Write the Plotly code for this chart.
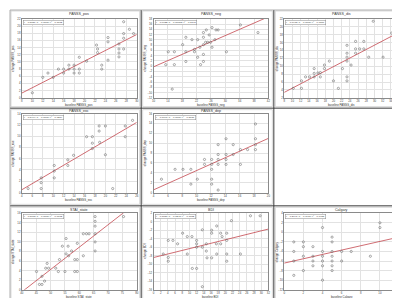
import numpy as np
import plotly.graph_objects as go

W, H = 400, 298

titles = ["PANSS_pos", "PANSS_neg", "PANSS_dis", "PANSS_exc", "PANSS_dep",
          "STAI_state", "BDI", "Calgary"]
xtitles = ["baseline PANSS_pos", "baseline PANSS_neg", "baseline PANSS_dis",
           "baseline PANSS_exc", "baseline PANSS_dep", "baseline STAI_state",
           "baseline BDI", "baseline Calgary"]
ytitles = ["change PANSS_pos", "change PANSS_neg", "change PANSS_dis",
           "change PANSS_exc", "change PANSS_dep", "change STAI_state",
           "change BDI", "change Calgary"]
stats = ["r = 0.8759, p = 0.0000; r² = 0.7672",
         "r = 0.6122, p = 0.00005; r² = 0.3748",
         "r = 0.7975, p = 0.0000; r² = 0.6360",
         "r = 0.8494, p = 0.0000; r² = 0.7214",
         "r = 0.7097, p = 0.0000; r² = 0.5037",
         "r = 0.8168, p = 0.0000; r² = 0.6672",
         "r = 0.3650, p = 0.0243; r² = 0.1332",
         "r = 0.2141, p = 0.1977; r² = 0.0458"]

# ---- data ----
pos_x = [10, 12, 13, 14, 15, 16, 16, 17, 17, 18, 18, 18, 19, 19, 19, 20.4, 22.5, 22.5, 22.3,
         23.3, 23.3, 24.5, 24.5, 24.5, 26.6, 26.6, 26.6, 26.6, 27.5, 27.5, 27.5, 27.5, 28.6, 29.4]
pos_y = [1.4, 5.7, 6.9, 5.7, 8, 8, 6.9, 9.1, 8, 6.9, 9.1, 8, 11.3, 6.9, 8, 10.2, 13.6, 12.6, 14.7,
         9.1, 8, 16.8, 15.6, 10.5, 13.6, 12.5, 11.4, 15, 17.9, 16.6, 13.6, 21.2, 19.1, 17.9]

neg_x = [13.4, 14.1, 15.8, 15.8, 15.2, 18.1, 19.0, 19.0, 19.0, 20.7, 21.4, 21.4, 22.3, 22.3, 22.9,
         23.1, 23.9, 23.9, 23.9, 23.9, 23.9, 24.5, 24.7, 25.1, 25.5, 25.9, 26.3, 26.3, 27.1, 27.4,
         28.0, 30.3, 34.2, 39.1]
neg_y = [0.6, 5.5, 5.5, 0.6, -8.7, 8.2, 11, 5.5, 1.8, 10.1, 6.4, 5.5, 10.1, 3.4, 7.2,
         0.6, 11, 12.8, 8.2, 1.8, 4.5, 9.1, 13.8, 9.1, 11.9, 9.1, 14.7, 7.2, 10.1, 13.8,
         13.8, 5.5, 15.7, 12.8]

dis_x = [10.2, 12.2, 12.2, 13.2, 14.2, 15.3, 15.3, 15.3, 16.2, 16.8, 16.8, 17.8, 17.8, 19.0, 20.0,
         21.2, 22.2, 23.3, 23.3, 23.3, 23.3, 23.3, 23.3, 24.3, 25.4, 25.4, 25.4, 26.4, 27.4, 27.4,
         28.6, 29.7, 32.1, 34.2]
dis_y = [4.4, 6.3, 4.4, 7.3, 7.3, 9.4, 8.2, 7.3, 8.3, 7.3, 8.4, 10.3, 9.4, 11.3, 6.3,
         4.4, 9.4, 15.3, 13.3, 12.3, 11.3, 7.3, 6.3, 10.3, 16.3, 14.4, 13.3, 14.4, 16.3, 14.4,
         12.3, 21.4, 12.3, 18.4]

exc_x = [5.2, 7.7, 7.7, 7.7, 10.2, 10.2, 10.2, 12.8, 12.8, 13.9, 16.4, 17.5, 17.5, 17.5, 18.8,
         18.8, 18.9, 20.0, 20.0, 21.4, 23.8, 23.8, 25.2]
exc_y = [0.7, 0.7, 1.75, 2.6, 2.6, 3.8, 4.8, 4.8, 5.8, 6.6, 9.9, 9.9, 8.75, 7.8, 10.9,
         11.8, 8.9, 11.8, 6.7, 0.7, 11.8, 9.9, 12.8]

dep_x = [5.1, 7.0, 8.1, 9.2, 9.2, 10.1, 11.1, 11.1, 12.1, 12.1, 12.1, 12.1, 12.1, 13.0, 13.0,
         13.0, 13.0, 13.0, 14.1, 14.1, 14.1, 14.1, 15.1, 15.1, 16.1, 16.1, 17.1, 18.2, 18.2, 18.2,
         18.2]
dep_y = [2.7, 4.7, 4.7, 4.7, 1.7, 2.7, 5.7, 6.7, 6.7, 5.7, 4.7, 2.7, 1.7, 9.7, 7.7,
         6.7, 5.7, 0.5, 10.9, 7.7, 6.7, 5.7, 9.7, 7.7, 8.7, 5.7, 8.7, 13.9, 10.9, 9.7,
         8.7]

stai_x = [45.1, 46.1, 47.0, 47.0, 47.9, 48.3, 48.8, 49.3, 51.8, 52.7, 53.1, 54.1, 55.0, 55.4, 55.4,
          56.1, 56.3, 57.3, 58.4, 58.4, 59.3, 59.3, 59.3, 61.4, 61.4, 62.5, 63.4, 65.5, 65.5, 65.5,
          65.5, 65.5, 65.5, 75.4]
stai_y = [3.8, 1.1, 1.1, 2.8, 1.8, 4.5, 5.5, 4.5, 4.5, 3.8, 6.3, 9.1, 3.8, 7.5, 10.7,
          9.1, 7.1, 8.1, 6.3, 3.8, 6.3, 9.7, 3.8, 7.1, 11.7, 11.7, 11.7, 11.7, 10, 8.1,
          13.3, 15.3, 14.3, 15.3]

bdi_x = [2.7, 4.1, 4.1, 4.1, 5.4, 6.7, 8.1, 9.4, 9.4, 10.7, 10.8, 12.0, 12.0, 12.0, 12.0,
         13.6, 13.6, 13.6, 14.7, 14.7, 14.9, 16.2, 16.2, 16.2, 17.5, 17.6, 17.6, 18.7, 18.7, 19.1,
         20.4, 20.4, 20.4, 20.4, 21.7, 24.2, 27.0, 29.7]
bdi_y = [-7.6, -8.4, -9.3, -4.4, -4.4, -5.2, -2.7, -3.5, -7.6, -3.5, -11, -4.4, -5.2, -6, -11,
         -1.9, -6, -15.3, -5.2, -6.9, -8.5, -2, -2.7, -8.5, -5.2, -1, -7.6, -2.7, -5.2, -3.5,
         -2.7, -4.4, -7.6, -9.3, 0.25, -7.6, 1.4, 1.4]

cal_x = [1, 1, 1, 1, 2, 2, 2, 2, 3, 3, 3, 3, 4, 4, 4, 4, 4, 4, 5, 5, 5, 5, 5, 5, 5,
         6, 6, 7, 9, 10, 10]
cal_y = [-2, -4, -6, -9, -2, -3, -5, -8, -3, -5, -6, -7, 1, -4, -5, -6, -7, -10, -1, -2, -4, -5, -6, -7, -8,
         -4, -6, -4, -5, 2, 1]

# tick values per panel
x_ticks = [list(range(8, 31, 2)), list(range(10, 43, 4)), list(range(8, 37, 2)),
           list(range(4, 27, 2)), list(range(4, 21, 2)), list(range(40, 81, 5)),
           list(range(0, 33, 2)), list(range(0, 13, 2))]
y_ticks = [list(range(0, 23, 2)), list(range(-12, 19, 2)), list(range(2, 23, 2)),
           list(range(0, 15, 2)), list(range(0, 17, 2)), list(range(0, 17, 2)),
           list(range(-16, 3, 2)), list(range(-12, 5, 2))]

datasets = [(pos_x, pos_y), (neg_x, neg_y), (dis_x, dis_y), (exc_x, exc_y),
            (dep_x, dep_y), (stai_x, stai_y), (bdi_x, bdi_y), (cal_x, cal_y)]

# pixel boxes of plot areas (left, right, top, bottom) and cell boxes
plot_boxes = [(12, 128, 9, 89), (145, 261, 9, 89), (277, 393, 9, 89),
              (12, 128, 105, 185), (145, 261, 105, 185),
              (12, 128, 206, 283.5), (145, 261, 206, 283.5), (277, 393, 206, 283.5)]
cell_boxes = [(0, 132, 0, 99), (133, 266, 0, 99), (267, 400, 0, 99),
              (0, 132, 100, 198), (133, 266, 100, 198),
              (0, 132, 199, 298), (133, 266, 199, 298), (267, 400, 199, 298)]
xtitle_y = [95.8, 95.8, 95.8, 192.5, 192.5, 291.3, 291.3, 291.3]
title_y = [4, 4, 4, 102.5, 102.5, 202.5, 202.5, 202.5]


def px(x):
    return x / W


def py(y):
    return 1 - y / H


fig = go.Figure()
annotations = []
shapes = []
FONT = "Arial, Liberation Sans, sans-serif"

for i, (xs, ys) in enumerate(datasets):
    n = i + 1
    xa = "x" if n == 1 else f"x{n}"
    ya = "y" if n == 1 else f"y{n}"
    l, r, t, b = plot_boxes[i]
    xt, yt = x_ticks[i], y_ticks[i]
    xr = [xt[0], xt[-1]]
    yr = [yt[0], yt[-1]]
    # regression line from data
    k, c = np.polyfit(xs, ys, 1)
    lx = np.array(xr, dtype=float)
    fig.add_trace(go.Scatter(x=lx, y=k * lx + c, mode="lines", xaxis=xa, yaxis=ya,
                             line=dict(color="#c4484f", width=0.8), showlegend=False,
                             hoverinfo="skip", cliponaxis=True))
    fig.add_trace(go.Scatter(x=xs, y=ys, mode="markers", xaxis=xa, yaxis=ya,
                             marker=dict(symbol="circle-open", size=2.2, color="#666666",
                                         line=dict(width=0.55)),
                             showlegend=False))
    axkey = "xaxis" if n == 1 else f"xaxis{n}"
    aykey = "yaxis" if n == 1 else f"yaxis{n}"
    fig.update_layout(**{
        axkey: dict(domain=[px(l), px(r)], range=xr, anchor=ya, tickvals=xt,
                    showgrid=True, gridcolor="#e2e2e2", gridwidth=0.5, zeroline=False,
                    showline=True, linecolor="#8a8a8a", linewidth=0.7, mirror=True,
                    ticks="", tickfont=dict(size=2.8, color="#444", family=FONT)),
        aykey: dict(domain=[py(b), py(t)], range=yr, anchor=xa, tickvals=yt,
                    showgrid=True, gridcolor="#e2e2e2", gridwidth=0.5, zeroline=False,
                    showline=True, linecolor="#8a8a8a", linewidth=0.7, mirror=True,
                    ticks="", tickfont=dict(size=2.8, color="#444", family=FONT)),
    })
    cl, cr, ct, cb = cell_boxes[i]
    # titles
    annotations.append(dict(x=px((l + r) / 2), y=py(title_y[i]), xref="paper", yref="paper",
                             text=titles[i], showarrow=False, xanchor="center", yanchor="middle",
                             font=dict(size=3.6, color="#333", family=FONT)))
    annotations.append(dict(x=px((l + r) / 2), y=py(xtitle_y[i]), xref="paper", yref="paper",
                             text=xtitles[i], showarrow=False, xanchor="center", yanchor="middle",
                             font=dict(size=2.9, color="#333", family=FONT)))
    annotations.append(dict(x=px(cl + 3.5), y=py((t + b) / 2), xref="paper", yref="paper",
                             text=ytitles[i], showarrow=False, textangle=-90,
                             xanchor="center", yanchor="middle",
                             font=dict(size=2.9, color="#333", family=FONT)))
    annotations.append(dict(x=px(l + 1.2), y=py(t + 1.2), xref="paper", yref="paper",
                             text=stats[i], showarrow=False, xanchor="left", yanchor="top",
                             bgcolor="white", bordercolor="#888", borderwidth=0.5, borderpad=0.6,
                             font=dict(size=2.5, color="#333", family=FONT)))
    # cell frame
    shapes.append(dict(type="rect", xref="paper", yref="paper",
                       x0=px(cl + 1), x1=px(cr - 1), y0=py(cb - 1), y1=py(ct + 1),
                       line=dict(color="#c8c8c8", width=0.7)))

# dark separators between screenshots
for xs_ in [132.5, 266.5]:
    shapes.append(dict(type="line", xref="paper", yref="paper", x0=px(xs_), x1=px(xs_),
                       y0=0, y1=1, line=dict(color="#3a3a3a", width=1)))
for ys_ in [99.5, 198.5]:
    shapes.append(dict(type="line", xref="paper", yref="paper", x0=0, x1=1,
                       y0=py(ys_), y1=py(ys_), line=dict(color="#3a3a3a", width=1)))
shapes.append(dict(type="rect", xref="paper", yref="paper", x0=0, x1=1, y0=0, y1=1,
                   line=dict(color="#9a9a9a", width=0.8)))

fig.update_layout(width=W, height=H, margin=dict(l=0, r=0, t=0, b=0),
                  paper_bgcolor="white", plot_bgcolor="white",
                  annotations=annotations, shapes=shapes, showlegend=False)

fig.write_html("out.html")
